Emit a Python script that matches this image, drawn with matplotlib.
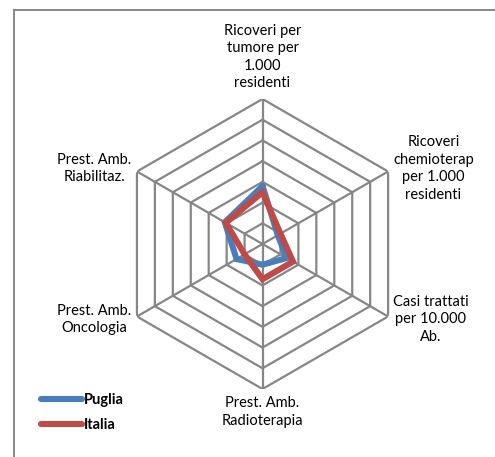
import numpy as np
import matplotlib.pyplot as plt
from matplotlib.patches import Rectangle

categories = [
    "Ricoveri per\ntumore per\n1.000\nresidenti",
    "Ricoveri\nchemioterap\nper 1.000\nresidenti",
    "Casi trattati\nper 10.000\nAb.",
    "Prest. Amb.\nRadioterapia",
    "Prest. Amb.\nOncologia",
    "Prest. Amb.\nRiabilitaz.",
]
puglia = [2.8, 0.85, 1.35, 1.0, 1.45, 2.1]
italia = [2.5, 1.0, 1.7, 1.7, 1.0, 2.05]
ring_levels = [1, 2, 3, 4, 5, 6, 7]

grid_color = "#868686"
blue = "#4A7EBB"
red = "#BE4B48"

plt.rcParams["font.family"] = ["Lato", "DejaVu Sans"]

fig = plt.figure(figsize=(4.95, 4.57), dpi=100)

# frame of the chart area (cut on right and bottom)
fig.add_artist(Rectangle((13.5 / 495, -0.1), 1.2, 1.1 - 10 / 457,
                         transform=fig.transFigure, fill=False,
                         edgecolor="#888888", lw=1.4))

ax = fig.add_axes([0.2374, 0.1488, 0.5859, 0.6346], projection="polar")
ax.set_theta_offset(np.pi / 2)
ax.set_theta_direction(-1)
ax.set_ylim(0, ring_levels[-1])
ax.grid(False)
ax.spines["polar"].set_visible(False)
ax.set_xticks([])
ax.set_yticks([])
ax.patch.set_alpha(0)

n = len(categories)
angles = np.linspace(0, 2 * np.pi, n, endpoint=False)
closed = np.append(angles, angles[0])

for r in ring_levels:
    ax.plot(closed, [r] * (n + 1), color=grid_color, lw=1.6, zorder=1)
for a in angles:
    ax.plot([a, a], [0, ring_levels[-1]], color=grid_color, lw=1.6, zorder=1)

ax.plot(closed, puglia + puglia[:1], color=blue, lw=4.4, label="Puglia",
        solid_joinstyle="miter", solid_capstyle="round", zorder=3)
ax.plot(closed, italia + italia[:1], color=red, lw=4.4, label="Italia",
        solid_joinstyle="miter", solid_capstyle="round", zorder=4)

# category labels around the hexagon
label_pos = [
    (0.5, 1.03, "center", "bottom"),
    (0.95, 0.76, "left", "center"),
    (0.95, 0.24, "left", "center"),
    (0.5, -0.025, "center", "top"),
    (0.047, 0.24, "right", "center"),
    (0.047, 0.76, "right", "center"),
]
for name, (x, y, ha, va) in zip(categories, label_pos):
    ax.text(x, y, name, transform=ax.transAxes, ha=ha, va=va,
            multialignment="center", fontsize=10.5, linespacing=1.32)

fig.legend(loc="upper left", bbox_to_anchor=(0.083, 0.14), frameon=False,
           borderpad=0, borderaxespad=0, handlelength=2.8, handletextpad=0.1,
           labelspacing=0.75, prop={"weight": "bold", "size": 10.5})

fig.savefig("out.png", dpi=100)
plt.close(fig)
